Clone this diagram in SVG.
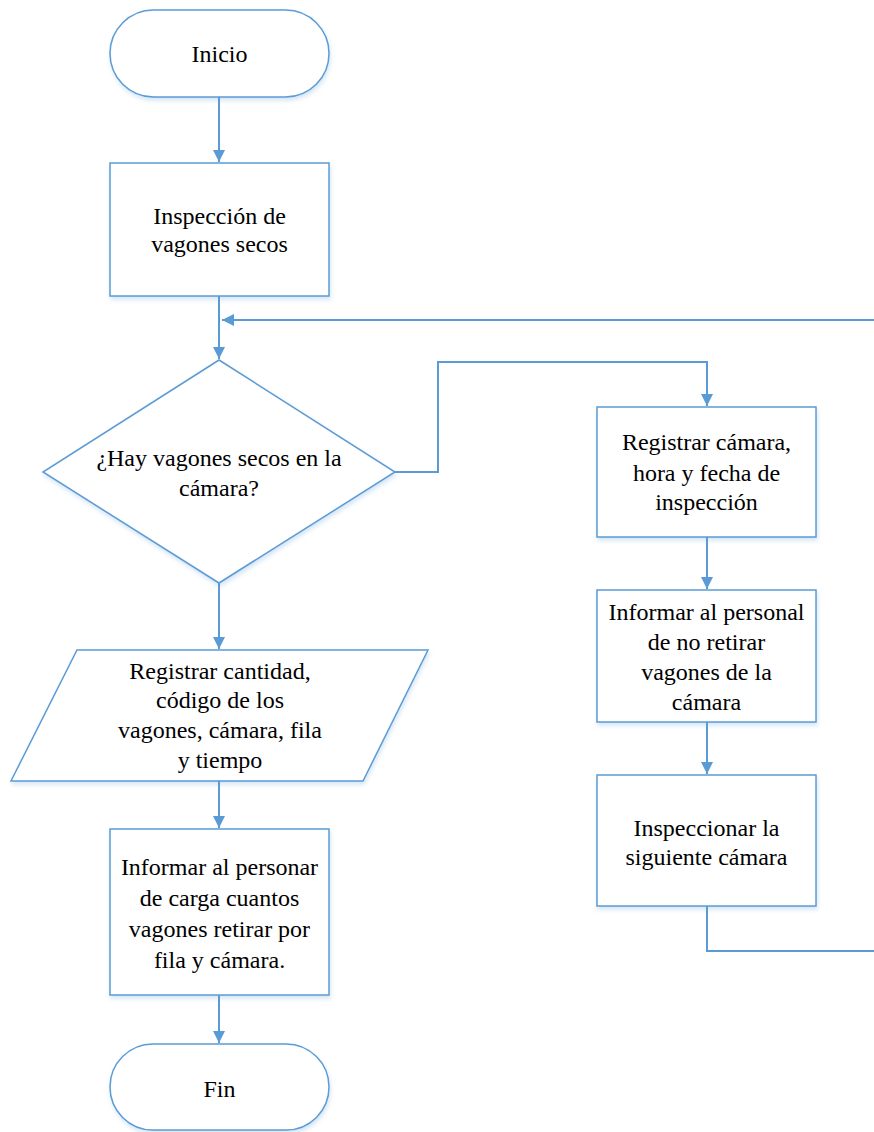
<svg xmlns="http://www.w3.org/2000/svg" width="874" height="1132" viewBox="0 0 874 1132">
  <style>
    .shape { fill: #ffffff; stroke: #5B9BD5; stroke-width: 1.5; filter: url(#shadow); }
    .edge { fill: none; stroke: #5B9BD5; stroke-width: 2; }
    text { font-family: "Liberation Serif", "Times New Roman", serif; font-size: 24px; fill: #000000; text-anchor: middle; }
  </style>
  <defs>
    <filter id="shadow" x="-10%" y="-10%" width="120%" height="130%">
      <feGaussianBlur in="SourceAlpha" stdDeviation="2"/>
      <feOffset dx="1" dy="3" result="blur"/>
      <feFlood flood-color="#5B9BD5" flood-opacity="0.25"/>
      <feComposite in2="blur" operator="in"/>
      <feMerge>
        <feMergeNode/>
        <feMergeNode in="SourceGraphic"/>
      </feMerge>
    </filter>
    <marker id="arrow" viewBox="0 0 12 12" refX="12" refY="6" markerWidth="12" markerHeight="12" markerUnits="userSpaceOnUse" orient="auto">
      <path d="M0,0 L12,6 L0,12 Z" fill="#5B9BD5"/>
    </marker>
  </defs>

  <!-- connectors -->
  <g id="connectors">
    <path class="edge" d="M219,97 V162" marker-end="url(#arrow)"/>
    <path class="edge" d="M219,296 V359" marker-end="url(#arrow)"/>
    <path class="edge" d="M874,320 H222" marker-end="url(#arrow)"/>
    <path class="edge" d="M395,472 H438 V362 H707 V406" marker-end="url(#arrow)"/>
    <path class="edge" d="M707,537 V589" marker-end="url(#arrow)"/>
    <path class="edge" d="M707,722 V774" marker-end="url(#arrow)"/>
    <path class="edge" d="M707,906 V951 H874"/>
    <path class="edge" d="M219,583 V649" marker-end="url(#arrow)"/>
    <path class="edge" d="M219,781 V828" marker-end="url(#arrow)"/>
    <path class="edge" d="M219,995 V1043" marker-end="url(#arrow)"/>
  </g>

  <g id="inicio">
    <rect class="shape" x="110" y="10" width="219" height="87" rx="43.5" ry="43.5"/>
    <text x="219.5" y="62">Inicio</text>
  </g>

  <g id="inspeccion">
    <rect class="shape" x="110" y="163" width="219" height="133"/>
    <text x="219.5" y="224">Inspección de</text>
    <text x="219.5" y="252">vagones secos</text>
  </g>

  <g id="decision">
    <polygon class="shape" points="219,360 395,472 219,583 43,472"/>
    <text x="219" y="466">¿Hay vagones secos en la</text>
    <text x="219" y="496">cámara?</text>
  </g>

  <g id="registrar-cantidad">
    <polygon class="shape" points="77,650 428,650 363,781 11,781"/>
    <text x="220" y="679">Registrar cantidad,</text>
    <text x="220" y="708">código de los</text>
    <text x="220" y="738">vagones, cámara, fila</text>
    <text x="220" y="768">y tiempo</text>
  </g>

  <g id="informar-carga">
    <rect class="shape" x="110" y="829" width="219" height="166"/>
    <text x="219.5" y="875">Informar al personar</text>
    <text x="219.5" y="906">de carga cuantos</text>
    <text x="219.5" y="937">vagones retirar por</text>
    <text x="219.5" y="968">fila y cámara.</text>
  </g>

  <g id="fin">
    <rect class="shape" x="110" y="1044" width="219" height="86" rx="43" ry="43"/>
    <text x="219.5" y="1097">Fin</text>
  </g>

  <g id="registrar-camara">
    <rect class="shape" x="597" y="407" width="219" height="130"/>
    <text x="706.5" y="450">Registrar cámara,</text>
    <text x="706.5" y="481">hora y fecha de</text>
    <text x="706.5" y="510">inspección</text>
  </g>

  <g id="informar-no-retirar">
    <rect class="shape" x="597" y="590" width="219" height="132"/>
    <text x="706.5" y="620">Informar al personal</text>
    <text x="706.5" y="650">de no retirar</text>
    <text x="706.5" y="680">vagones de la</text>
    <text x="706.5" y="710">cámara</text>
  </g>

  <g id="inspeccionar-siguiente">
    <rect class="shape" x="597" y="775" width="219" height="131"/>
    <text x="706.5" y="836">Inspeccionar la</text>
    <text x="706.5" y="865">siguiente cámara</text>
  </g>
</svg>
